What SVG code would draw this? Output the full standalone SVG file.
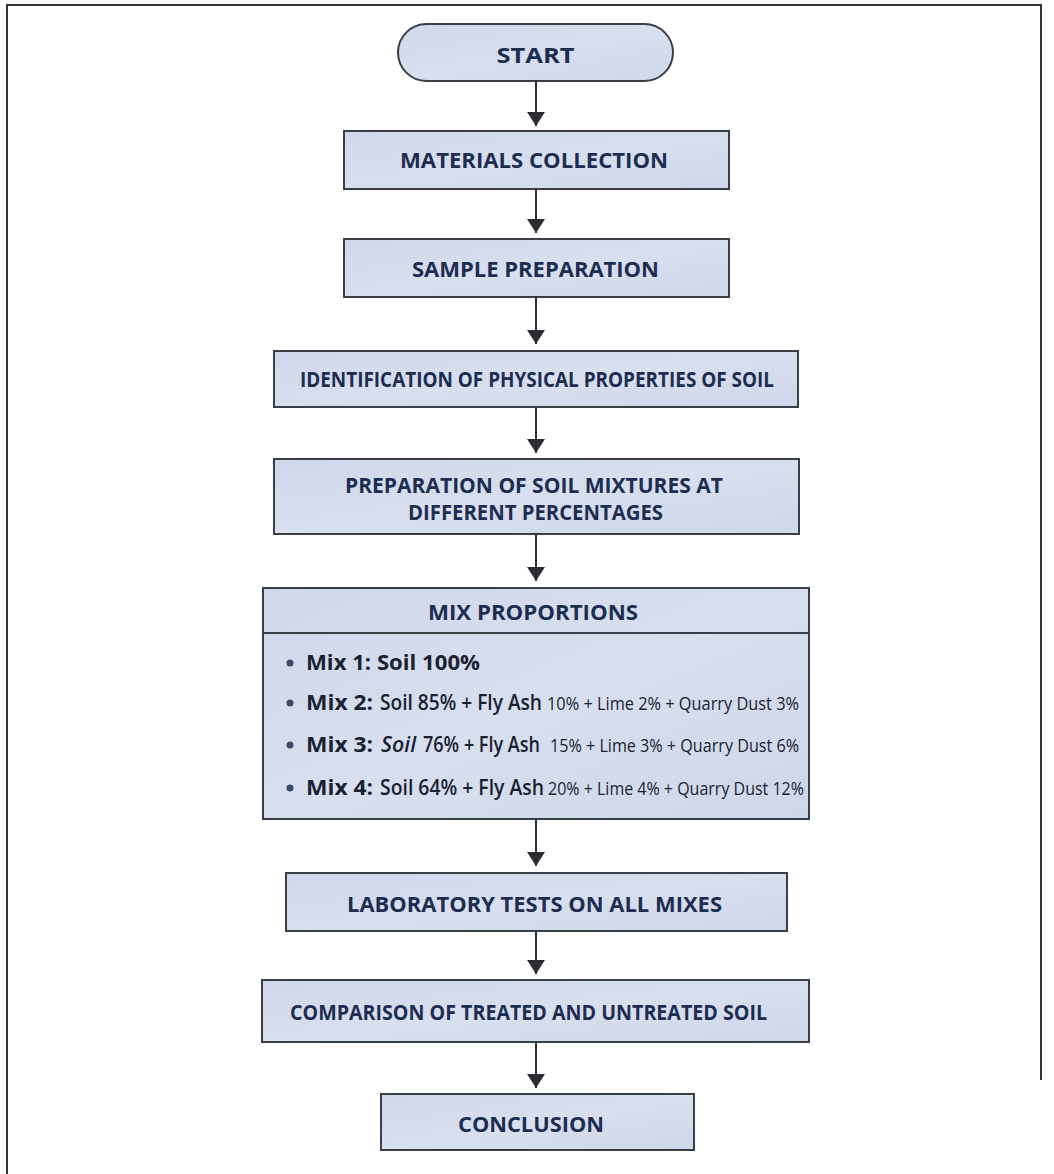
<svg xmlns="http://www.w3.org/2000/svg" width="1054" height="1174" viewBox="0 0 1054 1174">
  <defs>
    <linearGradient id="boxFill" x1="0" y1="0" x2="1" y2="1">
      <stop offset="0" stop-color="#cfd8ea"/>
      <stop offset="0.5" stop-color="#d8dfee"/>
      <stop offset="1" stop-color="#ced7e9"/>
    </linearGradient>
    <marker id="arrow" viewBox="0 0 14 18" refX="14" refY="9" markerWidth="14" markerHeight="18" markerUnits="userSpaceOnUse" orient="auto">
      <path d="M0,0 L14,9 L0,18 Z" fill="#2b2d33"/>
    </marker>
    <style>
      .box { fill: url(#boxFill); stroke: #3a3e47; stroke-width: 2; }
      .lbl { font-family: "Open Sans", "Noto Sans", sans-serif; font-weight: 700; fill: #1d2d52; font-size: 22px; }
      .mix { font-family: "Open Sans", "Noto Sans", sans-serif; fill: #1a2232; font-size: 22px; }
      .mixb { font-weight: 700; }
      .mixm { font-weight: 600; }
      .mixs { font-weight: 400; font-size: 19px; }
      .bul { fill: #3b4a6b; }
      .conn { stroke: #2b2d33; stroke-width: 2; fill: none; marker-end: url(#arrow); }
      .frame { stroke: #333; stroke-width: 2; fill: none; }
    </style>
  </defs>
  <rect width="1054" height="1174" fill="#ffffff"/>
  <path class="frame" d="M7,1174 V5 H1041 V1080"/>

  <g id="connectors">
    <line class="conn" x1="536" y1="81" x2="536" y2="126"/>
    <line class="conn" x1="536" y1="189" x2="536" y2="233"/>
    <line class="conn" x1="536" y1="297" x2="536" y2="344"/>
    <line class="conn" x1="536" y1="407" x2="536" y2="453"/>
    <line class="conn" x1="536" y1="534" x2="536" y2="581"/>
    <line class="conn" x1="536" y1="819" x2="536" y2="866"/>
    <line class="conn" x1="536" y1="931" x2="536" y2="974"/>
    <line class="conn" x1="536" y1="1042" x2="536" y2="1088"/>
  </g>

  <g id="start">
    <rect class="box" x="398" y="24" width="275" height="57" rx="28.5"/>
    <text class="lbl" x="535.5" y="63" text-anchor="middle" font-size="26" textLength="78" lengthAdjust="spacingAndGlyphs">START</text>
  </g>

  <g id="materials">
    <rect class="box" x="344" y="131" width="385" height="58"/>
    <text class="lbl" x="400" y="168" textLength="268" lengthAdjust="spacingAndGlyphs">MATERIALS COLLECTION</text>
  </g>

  <g id="sample">
    <rect class="box" x="344" y="239" width="385" height="58"/>
    <text class="lbl" x="412" y="277" textLength="247" lengthAdjust="spacingAndGlyphs">SAMPLE PREPARATION</text>
  </g>

  <g id="identification">
    <rect class="box" x="274" y="351" width="524" height="56"/>
    <text class="lbl" x="300" y="387" textLength="474" lengthAdjust="spacingAndGlyphs">IDENTIFICATION OF PHYSICAL PROPERTIES OF SOIL</text>
  </g>

  <g id="preparation">
    <rect class="box" x="274" y="459" width="525" height="75"/>
    <text class="lbl" x="345" y="493" font-size="20" textLength="378" lengthAdjust="spacingAndGlyphs">PREPARATION OF SOIL MIXTURES AT</text>
    <text class="lbl" x="408" y="520" font-size="20" textLength="255" lengthAdjust="spacingAndGlyphs">DIFFERENT PERCENTAGES</text>
  </g>

  <g id="mix-proportions">
    <rect class="box" x="263" y="588" width="546" height="231"/>
    <line x1="263" y1="633" x2="809" y2="633" stroke="#3a3e47" stroke-width="2"/>
    <text class="lbl" x="428" y="620" textLength="210" lengthAdjust="spacingAndGlyphs">MIX PROPORTIONS</text>
    <circle class="bul" cx="290" cy="663" r="3.5"/>
    <text class="mix mixb" x="306" y="670" textLength="174" lengthAdjust="spacingAndGlyphs">Mix 1: Soil 100%</text>
    <circle class="bul" cx="290" cy="703" r="3.5"/>
    <text class="mix mixb" x="306" y="710" textLength="67" lengthAdjust="spacingAndGlyphs">Mix 2:</text>
    <text class="mix mixm" x="380" y="710" textLength="162" lengthAdjust="spacingAndGlyphs">Soil 85% + Fly Ash</text>
    <text class="mix mixs" x="547" y="710" textLength="252" lengthAdjust="spacingAndGlyphs">10% + Lime 2% + Quarry Dust 3%</text>
    <circle class="bul" cx="290" cy="745" r="3.5"/>
    <text class="mix mixb" x="306" y="752" textLength="67" lengthAdjust="spacingAndGlyphs">Mix 3:</text>
    <text class="mix mixm" x="381" y="752" font-style="italic" textLength="35" lengthAdjust="spacingAndGlyphs">Soil</text>
    <text class="mix mixm" x="423" y="752" font-size="19" textLength="117" lengthAdjust="spacingAndGlyphs" style="font-size:21px">76% + Fly Ash</text>
    <text class="mix mixs" x="550" y="752" textLength="249" lengthAdjust="spacingAndGlyphs">15% + Lime 3% + Quarry Dust 6%</text>
    <circle class="bul" cx="290" cy="788" r="3.5"/>
    <text class="mix mixb" x="306" y="795" textLength="67" lengthAdjust="spacingAndGlyphs">Mix 4:</text>
    <text class="mix mixm" x="380" y="795" textLength="164" lengthAdjust="spacingAndGlyphs">Soil 64% + Fly Ash</text>
    <text class="mix mixs" x="548" y="795" textLength="256" lengthAdjust="spacingAndGlyphs">20% + Lime 4% + Quarry Dust 12%</text>
  </g>

  <g id="laboratory">
    <rect class="box" x="286" y="873" width="501" height="58"/>
    <text class="lbl" x="347" y="912" textLength="375" lengthAdjust="spacingAndGlyphs">LABORATORY TESTS ON ALL MIXES</text>
  </g>

  <g id="comparison">
    <rect class="box" x="262" y="980" width="547" height="62"/>
    <text class="lbl" x="290" y="1020" textLength="477" lengthAdjust="spacingAndGlyphs">COMPARISON OF TREATED AND UNTREATED SOIL</text>
  </g>

  <g id="conclusion">
    <rect class="box" x="381" y="1094" width="313" height="56"/>
    <text class="lbl" x="458" y="1132" textLength="146" lengthAdjust="spacingAndGlyphs">CONCLUSION</text>
  </g>
</svg>
